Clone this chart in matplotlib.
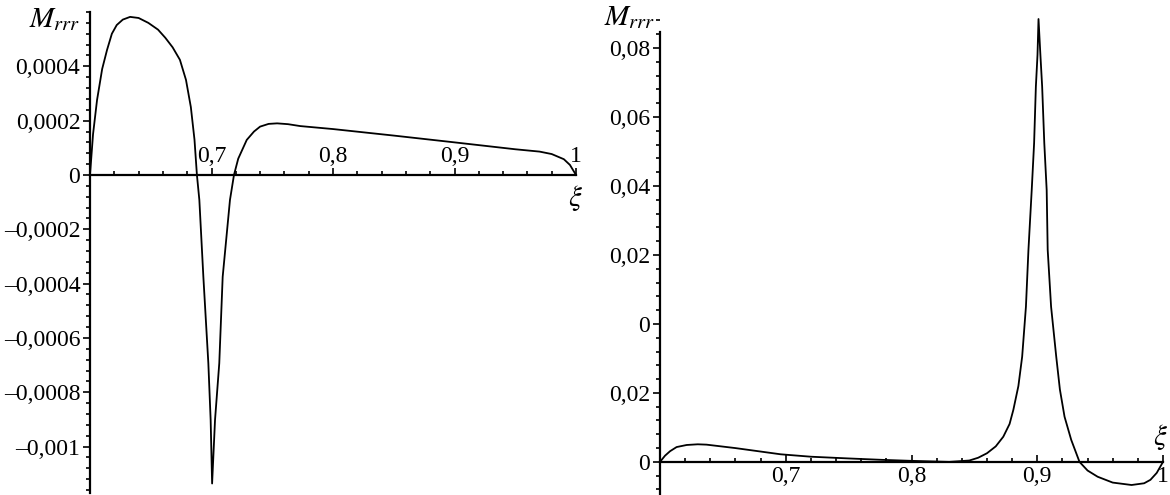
import matplotlib
matplotlib.use("Agg")
import matplotlib.pyplot as plt
from matplotlib.ticker import MultipleLocator, FixedLocator, FixedFormatter

plt.rcParams['font.family'] = ['Liberation Serif', 'DejaVu Serif']
plt.rcParams['mathtext.fontset'] = 'stix'

# left panel: M_rrr(xi)
xi_left = [0.600, 0.6025, 0.6058, 0.610, 0.614, 0.618, 0.622, 0.627, 0.633, 0.640,
           0.648, 0.656, 0.662, 0.668, 0.674, 0.679, 0.683, 0.686, 0.688, 0.690,
           0.6933, 0.6974, 0.6993, 0.7005, 0.7029, 0.7064, 0.7092, 0.7152, 0.7185,
           0.722, 0.729, 0.735, 0.740, 0.747, 0.754, 0.763, 0.773, 0.800, 0.850,
           0.900, 0.950, 0.970, 0.980, 0.990, 0.995, 1.000]
m_left = [0.0, 0.00015, 0.000276, 0.00039, 0.00046, 0.00052, 0.000552, 0.000572,
          0.000582, 0.000578, 0.00056, 0.000535, 0.000505, 0.00047, 0.000424,
          0.00035, 0.00025, 0.00013, 0.0, -0.000092, -0.000375, -0.000693,
          -0.000902, -0.001136, -0.000902, -0.000693, -0.000375, -0.000092, 0.0,
          0.00006, 0.000129, 0.00016, 0.000178, 0.000188, 0.00019, 0.000187,
          0.00018, 0.000169, 0.000145, 0.00012, 0.0000946, 0.000086, 0.000077,
          0.000058, 0.000037, 0.0]

# right panel
xi_right = [0.600, 0.604, 0.608, 0.6132, 0.6212, 0.630, 0.637, 0.660, 0.680, 0.696,
            0.720, 0.750, 0.776, 0.800, 0.820, 0.830, 0.846, 0.853, 0.860, 0.867,
            0.873, 0.878, 0.881, 0.885, 0.888, 0.891, 0.893, 0.8956, 0.8975, 0.8989,
            0.9002, 0.901, 0.9025, 0.9039, 0.9056, 0.9075, 0.9083, 0.911, 0.9151,
            0.918, 0.9217, 0.927, 0.9336, 0.940, 0.948, 0.960, 0.975, 0.985, 0.990,
            0.995, 1.000]
m_right = [0.0, 0.0018, 0.0031, 0.0043, 0.0049, 0.0051, 0.0050, 0.0040, 0.0030,
           0.0022, 0.0015, 0.0010, 0.0006, 0.0003, 0.0001, 0.0, 0.0004, 0.0012,
           0.0025, 0.0045, 0.0073, 0.0110, 0.0151, 0.0220, 0.0305, 0.0450, 0.0615,
           0.0788, 0.0924, 0.1088, 0.118, 0.1284, 0.118, 0.1088, 0.0924, 0.0788,
           0.0615, 0.045, 0.0305, 0.021, 0.0131, 0.0064, 0.0, -0.0025, -0.0043,
           -0.0060, -0.0067, -0.0062, -0.0052, -0.0032, 0.0]

left_yticks = [-0.001, -0.0008, -0.0006, -0.0004, -0.0002, 0, 0.0002, 0.0004]
left_ylabels = ['–0,001', '–0,0008', '–0,0006', '–0,0004', '–0,0002', '0', '0,0002', '0,0004']
# the printed labels on the right panel do not follow the scale; kept as printed
right_yticks = [0.0, 0.02, 0.04, 0.06, 0.08, 0.10, 0.12]
right_ylabels = ['0', '0,02', '0', '0,02', '0,04', '0,06', '0,08']
xticks = [0.7, 0.8, 0.9, 1.0]
xlabels = ['0,7', '0,8', '0,9', '1']

W, H = 1170, 495
fig = plt.figure(figsize=(11.7, 4.95), dpi=100)

def style(ax):
    for s in ['top', 'right']:
        ax.spines[s].set_visible(False)
    ax.spines['bottom'].set_position(('data', 0))
    ax.spines['bottom'].set_linewidth(1.6)
    ax.spines['left'].set_linewidth(1.6)
    ax.set_xlim(0.6, 1.0)
    ax.xaxis.set_major_locator(FixedLocator(xticks))
    ax.xaxis.set_major_formatter(FixedFormatter(xlabels))
    ax.xaxis.set_minor_locator(MultipleLocator(0.02))
    ax.tick_params(axis='x', which='both', direction='in', width=1.2, labelsize=17)
    ax.tick_params(axis='x', which='major', length=5)
    ax.tick_params(axis='x', which='minor', length=3)
    ax.tick_params(axis='y', which='both', direction='out', width=1.2, labelsize=17)
    ax.tick_params(axis='y', which='major', length=5, pad=2)
    ax.tick_params(axis='y', which='minor', length=3)
    ax.patch.set_alpha(0)

# left
ax1 = fig.add_axes([90 / W, 2 / H, (576 - 90) / W, (493 - 12) / H])
ax1.plot(xi_left, m_left, color='black', lw=1.3, clip_on=False)
style(ax1)
ax1.set_ylim(-0.001171, 0.0006)
ax1.yaxis.set_major_locator(FixedLocator(left_yticks))
ax1.yaxis.set_major_formatter(FixedFormatter(left_ylabels))
ax1.yaxis.set_minor_locator(MultipleLocator(0.00004))
ax1.tick_params(axis='x', which='major', pad=-21)
ax1.text(-0.02, 0.985, '$M_{rrr}$', transform=ax1.transAxes, ha='right', va='center', fontsize=21)
ax1.text(0.998, -0.00003, r'$\xi$', transform=ax1.get_yaxis_transform(), ha='center', va='top',
         fontsize=21)

# right
ax2 = fig.add_axes([660 / W, 0 / H, (1163 - 660) / W, (495 - 13.5) / H])
ax2.plot(xi_right, m_right, color='black', lw=1.3, clip_on=False)
style(ax2)
ax2.set_ylim(-0.0096, 0.130)
ax2.spines['left'].set_bounds(-0.0096, 0.1246)
ax2.yaxis.set_major_locator(FixedLocator(right_yticks))
ax2.yaxis.set_major_formatter(FixedFormatter(right_ylabels))
ax2.yaxis.set_minor_locator(MultipleLocator(0.004))
ax2.tick_params(axis='x', which='major', pad=3)
ax2.text(-0.01, 0.125, '$M_{rrr}$', transform=ax2.get_yaxis_transform(), ha='right', va='bottom',
         fontsize=21)
ax2.text(0.995, 0.003, r'$\xi$', transform=ax2.get_yaxis_transform(), ha='center', va='bottom',
         fontsize=21)

fig.savefig('out.png', dpi=100)
